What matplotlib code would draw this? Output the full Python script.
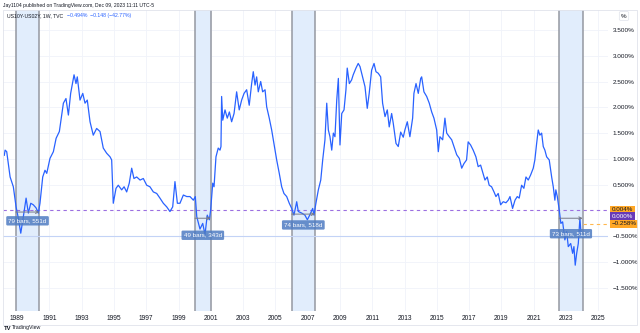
import matplotlib
matplotlib.use("Agg")
import matplotlib.pyplot as plt
from matplotlib.patches import Rectangle

plt.rcParams['font.family'] = ['Liberation Sans', 'DejaVu Sans']

# weekly US10Y-US02Y spread (decimal year, percent)
years = [1988.21, 1988.26, 1988.36, 1988.57, 1988.77, 1988.94, 1989.08, 1989.23, 1989.39, 1989.56,
         1989.70, 1989.85, 1990.01, 1990.18, 1990.32, 1990.42, 1990.59, 1990.73, 1990.84, 1991.04,
         1991.25, 1991.42, 1991.62, 1991.87, 1992.03, 1992.18, 1992.32, 1992.53, 1992.65, 1992.73,
         1992.90, 1993.07, 1993.21, 1993.35, 1993.52, 1993.72, 1993.93, 1994.14, 1994.34, 1994.55,
         1994.76, 1994.86, 1994.96, 1995.13, 1995.27, 1995.48, 1995.63, 1995.79, 1995.95, 1996.10,
         1996.24, 1996.41, 1996.62, 1996.82, 1997.03, 1997.23, 1997.44, 1997.65, 1997.85, 1998.06,
         1998.27, 1998.47, 1998.64, 1998.78, 1998.93, 1999.09, 1999.30, 1999.51, 1999.71, 1999.92,
         2000.04, 2000.13, 2000.33, 2000.50, 2000.64, 2000.78, 2000.91, 2000.99, 2001.12, 2001.20,
         2001.32, 2001.46, 2001.57, 2001.63, 2001.67, 2001.74, 2001.88, 2002.02, 2002.15, 2002.29,
         2002.44, 2002.60, 2002.76, 2002.91, 2003.06, 2003.22, 2003.38, 2003.53, 2003.63, 2003.74,
         2003.84, 2003.94, 2004.09, 2004.21, 2004.36, 2004.46, 2004.62, 2004.77, 2004.91, 2005.08,
         2005.24, 2005.39, 2005.53, 2005.70, 2005.86, 2006.01, 2006.15, 2006.32, 2006.42, 2006.63,
         2006.83, 2006.98, 2007.14, 2007.31, 2007.39, 2007.51, 2007.66, 2007.81, 2007.93, 2008.07,
         2008.18, 2008.28, 2008.38, 2008.49, 2008.59, 2008.69, 2008.80, 2008.90, 2009.00, 2009.11,
         2009.25, 2009.37, 2009.45, 2009.58, 2009.72, 2009.82, 2009.99, 2010.13, 2010.24, 2010.40,
         2010.55, 2010.69, 2010.81, 2010.96, 2011.11, 2011.23, 2011.37, 2011.52, 2011.64, 2011.79,
         2011.93, 2012.05, 2012.20, 2012.30, 2012.47, 2012.61, 2012.76, 2012.92, 2013.02, 2013.17,
         2013.33, 2013.50, 2013.58, 2013.71, 2013.85, 2014.00, 2014.06, 2014.20, 2014.37, 2014.53,
         2014.68, 2014.82, 2014.99, 2015.09, 2015.19, 2015.36, 2015.50, 2015.61, 2015.77, 2015.92,
         2016.06, 2016.23, 2016.39, 2016.54, 2016.68, 2016.84, 2016.94, 2017.09, 2017.25, 2017.42,
         2017.56, 2017.71, 2017.83, 2017.98, 2018.12, 2018.24, 2018.39, 2018.54, 2018.66, 2018.80,
         2018.95, 2019.11, 2019.28, 2019.42, 2019.53, 2019.69, 2019.84, 2019.98, 2020.10, 2020.25,
         2020.39, 2020.52, 2020.66, 2020.81, 2020.97, 2021.07, 2021.18, 2021.28, 2021.38, 2021.49,
         2021.59, 2021.69, 2021.80, 2021.96, 2022.11, 2022.21, 2022.31, 2022.37, 2022.46, 2022.58,
         2022.68, 2022.79, 2022.93, 2023.04, 2023.14, 2023.29, 2023.41, 2023.49, 2023.57, 2023.66,
         2023.76, 2023.86, 2023.94]
spread = [1.07, 1.17, 1.14, 0.65, 0.46, 0.07, -0.15, -0.44, -0.12, 0.24,
          -0.05, 0.14, 0.11, 0.05, -0.05, 0.14, 0.65, 0.78, 0.72, 1.01,
          1.14, 1.40, 1.53, 2.08, 2.17, 1.85, 2.27, 2.63, 2.46, 2.59,
          2.14, 2.27, 2.08, 2.14, 1.72, 1.46, 1.59, 1.53, 1.21, 1.11,
          1.04, 0.98, 0.14, 0.43, 0.49, 0.40, 0.46, 0.36, 0.53, 0.82,
          0.62, 0.65, 0.59, 0.62, 0.49, 0.46, 0.36, 0.33, 0.24, 0.14,
          0.07, -0.02, 0.07, 0.56, 0.14, 0.14, 0.30, 0.27, 0.27, 0.20,
          0.27, -0.12, -0.36, -0.25, -0.47, -0.09, -0.18, 0.01, 0.53, 0.46,
          1.04, 1.21, 1.17, 1.24, 2.21, 1.75, 1.95, 1.79, 1.91, 1.72,
          1.88, 2.30, 1.95, 2.14, 2.27, 2.34, 2.04, 2.46, 2.69, 2.43,
          2.59, 2.30, 2.50, 2.30, 2.34, 2.01, 1.79, 1.56, 1.30, 0.98,
          0.72, 0.46, 0.33, 0.27, 0.14, 0.04, -0.09, 0.17, -0.02, -0.05,
          -0.09, -0.18, -0.08, 0.04, -0.09, 0.14, 0.40, 0.59, 0.98, 1.37,
          2.08, 1.56, 1.43, 1.17, 1.50, 1.43, 2.14, 2.56, 1.27, 1.88,
          1.95, 2.34, 2.76, 2.46, 2.53, 2.63, 2.76, 2.85, 2.79, 2.59,
          2.40, 1.98, 2.27, 2.72, 2.85, 2.69, 2.66, 2.59, 2.08, 1.82,
          1.95, 1.62, 1.88, 1.69, 1.30, 1.24, 1.52, 1.42, 1.56, 1.72,
          1.43, 1.79, 2.27, 2.46, 2.27, 2.56, 2.59, 2.30, 2.21, 2.08,
          1.91, 1.79, 1.56, 1.14, 1.43, 1.37, 1.79, 1.50, 1.43, 1.37,
          1.24, 1.08, 1.01, 0.82, 0.91, 0.98, 1.33, 1.27, 1.17, 1.04,
          0.85, 0.88, 0.75, 0.59, 0.65, 0.49, 0.46, 0.36, 0.27, 0.33,
          0.11, 0.17, 0.15, 0.20, 0.27, 0.04, 0.20, 0.27, 0.24, 0.49,
          0.43, 0.65, 0.59, 0.69, 0.82, 0.98, 1.30, 1.56, 1.46, 1.50,
          1.24, 1.17, 1.04, 0.98, 0.65, 0.46, 0.20, 0.40, 0.27, 0.01,
          -0.25, -0.22, -0.57, -0.41, -0.70, -0.64, -0.83, -0.70, -1.06, -0.83,
          -0.64, -0.15, -0.49]

# date ranges marked on the chart
range_start = [1988.92, 2000.02, 2006.01, 2022.58]
range_end = [1990.38, 2000.99, 2007.45, 2024.03]
range_level = [-0.03, -0.15, -0.07, -0.15]
range_labels = ["79 bars, 551d", "49 bars, 343d", "74 bars, 518d", "73 bars, 511d"]

year_ticks = list(range(1989, 2026, 2))
pct_ticks = [-1.5, -1.0, -0.5, 0.5, 1.0, 1.5, 2.0, 2.5, 3.0, 3.5]

W, H = 640, 333
def fx(px):
    return px / W
def fy(py):
    return 1 - py / H

fig = plt.figure(figsize=(6.4, 3.33), dpi=100)
ax = fig.add_axes([fx(3), fy(311), fx(608) - fx(3), fy(10) - fy(311)])
ax.set_xlim(1988.13, 2025.60)
ax.set_ylim(-1.948, 3.886)

for s in ax.spines.values():
    s.set_visible(False)

ax.set_xticks(year_ticks)
ax.set_xticklabels([str(y) for y in year_ticks])
ax.yaxis.tick_right()
ax.set_yticks(pct_ticks)
ax.set_yticklabels([f"{v:.3f}%".replace("-", "\u2212") for v in pct_ticks])
ax.tick_params(axis='x', length=0, pad=3, labelsize=4.8, labelcolor='#131722')
ax.tick_params(axis='y', length=0, pad=3.5, labelsize=4.6, labelcolor='#131722')
ax.grid(color='#f0f3fa', lw=0.6)
ax.set_axisbelow(True)

# shaded date ranges
for a, b in zip(range_start, range_end):
    ax.axvspan(a, b, color='#e1edfc', zorder=1, lw=0)
    ax.axvline(a, color='#9598a1', lw=1.1, zorder=2)
    ax.axvline(b, color='#9598a1', lw=1.1, zorder=2)

ax.axhline(-0.5, color='#c3d3f6', lw=0.8, zorder=2)
ax.axhline(0.0, color='#9c6fe0', lw=0.8, ls=(0, (3, 3)), zorder=2)
ax.plot([2024.03, 2025.60], [-0.258, -0.258], color='#ffb74d', lw=0.8, ls=(0, (3, 3)), zorder=2)

ax.plot(years, spread, color='#2962ff', lw=0.9, zorder=4)

# range measurement lines and labels
offsets = [-0.17, -0.33, -0.21, -0.30]
for a, b, lev, lab, off in zip(range_start, range_end, range_level, range_labels, offsets):
    ax.annotate("", xy=(b, lev), xytext=(a, lev),
                arrowprops=dict(arrowstyle='->', color='#787b86', lw=0.7,
                                shrinkA=0, shrinkB=0, mutation_scale=5), zorder=5)
    ax.text((a + b) / 2, lev + off, lab, ha='center', va='center', fontsize=4.5,
            color='white', zorder=6,
            bbox=dict(boxstyle='round,pad=0.35,rounding_size=0.2', fc='#4f7cc2',
                      ec='none', alpha=0.85))

# price scale markers
ytr = ax.get_yaxis_transform()
ax.text(1.006, 0.01, "0.004%", transform=ytr, ha='left', va='center', fontsize=4.5,
        color='#131722', clip_on=False,
        bbox=dict(boxstyle='square,pad=0.25', fc='#ffa726', ec='none'))
ax.text(1.006, -0.115, "0.000%", transform=ytr, ha='left', va='center', fontsize=4.5,
        color='white', clip_on=False,
        bbox=dict(boxstyle='square,pad=0.25', fc='#673ab7', ec='none'))
ax.text(1.006, -0.258, "\u22120.258%", transform=ytr, ha='left', va='center', fontsize=4.5,
        color='#131722', clip_on=False,
        bbox=dict(boxstyle='square,pad=0.25', fc='#ffa726', ec='none'))

# frame and header texts
fig.patches.append(Rectangle((fx(3), fy(325)), fx(637) - fx(3), fy(10) - fy(325),
                             transform=fig.transFigure, fill=False, ec='#e0e3eb', lw=0.6))
fig.text(fx(624), fy(16), "%", ha='center', va='center', fontsize=4.5, color='#131722',
         bbox=dict(boxstyle='round,pad=0.3,rounding_size=0.2', fc='white', ec='#e0e3eb', lw=0.5))
fig.text(fx(3), fy(5), "Jay1104 published on TradingView.com, Dec 09, 2023 11:11 UTC-5",
         ha='left', va='center', fontsize=3.6, color='#131722')
title = fig.text(fx(7), fy(16), "US10Y-US02Y, 1W, TVC", ha='left', va='center', fontsize=3.7,
                 color='#131722')
fig.text(0, 0, "")
ax.annotate("\u22120.494%  \u22120.148 (\u221242.77%)", xy=(1, 0.5), xycoords=title,
            xytext=(3, 0), textcoords='offset points', ha='left', va='center',
            fontsize=3.7, color='#2962ff', annotation_clip=False)
fig.text(fx(4), fy(328), "TV", ha='left', va='center', fontsize=4.2, fontweight='bold',
         color='#131722')
fig.text(fx(12), fy(328), "TradingView", ha='left', va='center', fontsize=3.8, color='#131722')

fig.savefig("out.png", dpi=100)
